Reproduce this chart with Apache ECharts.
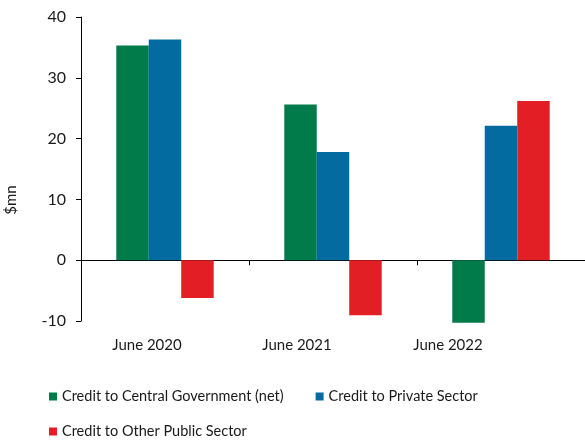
<!DOCTYPE html>
<html><head><meta charset="utf-8">
<script src="https://cdn.jsdelivr.net/npm/echarts@6/dist/echarts.min.js"></script>
<style>html,body{margin:0;padding:0;background:#fff}#c{width:585px;height:441px}</style>
</head><body><div id="c"></div>
<script>
const categories = ['June 2020', 'June 2021', 'June 2022'];
const centralGov = [35.3, 25.6, -10.3];
const privateSector = [36.3, 17.8, 22.1];
const otherPublic = [-6.2, -9.05, 26.2];
const yTicks = [-10, 0, 10, 20, 30, 40];
const seriesNames = ['Credit to Central Government (net)', 'Credit to Private Sector', 'Credit to Other Public Sector'];

const FONT = 'Lato';
const chart = echarts.init(document.getElementById('c'), null, {renderer: 'canvas'});
const labelShift = ['a', 'b', 'c'];
chart.setOption({
  animation: false,
  textStyle: {fontFamily: FONT},
  grid: {left: 81, top: 17, width: 507, bottom: 120, containLabel: false},
  legend: [
    {data: seriesNames.slice(0, 2), left: 44, top: 384, icon: 'rect', itemWidth: 8, itemHeight: 8,
     itemGap: 32, itemTextGap: 4, textStyle: {fontFamily: FONT, fontSize: 14.5, color: '#1a1a1a'}},
    {data: seriesNames.slice(2), left: 44, top: 419, icon: 'rect', itemWidth: 8, itemHeight: 8,
     itemTextGap: 4, textStyle: {fontFamily: FONT, fontSize: 14.5, color: '#1a1a1a'}}
  ],
  xAxis: [
    {type: 'category', data: categories,
     axisLine: {show: true, onZero: true, onZeroAxisIndex: 0, lineStyle: {color: '#000', width: 1}},
     axisTick: {show: true, length: 5, lineStyle: {color: '#000'}},
     axisLabel: {show: false}},
    {type: 'category', data: categories, position: 'bottom',
     axisLine: {show: false, onZero: false}, axisTick: {show: false},
     axisLabel: {margin: 17, fontSize: 15, color: '#1a1a1a',
       formatter: (v, i) => '{' + labelShift[i] + '|' + v + '}',
       rich: {a: {fontSize: 15, padding: [0, 36, 0, 0]}, b: {fontSize: 15, padding: [0, 72, 0, 0]}, c: {fontSize: 15, padding: [0, 106, 0, 0]}}}}
  ],
  yAxis: {type: 'value', min: yTicks[0], max: yTicks[yTicks.length - 1], interval: 10,
    splitLine: {show: false},
    axisLine: {show: true, lineStyle: {color: '#000', width: 1}},
    axisTick: {show: true, length: 5, lineStyle: {color: '#000'}},
    axisLabel: {margin: 15, fontSize: 16, color: '#1a1a1a'}},
  graphic: [{type: 'text', x: 4, y: 200, rotation: Math.PI / 2,
    style: {text: '$mn', fontFamily: FONT, fontSize: 15, fill: '#1a1a1a', textAlign: 'center', textVerticalAlign: 'top'}}],
  series: [
    {name: seriesNames[0], type: 'bar', xAxisIndex: 0, data: centralGov, barGap: '0%', barCategoryGap: '42%', clip: false,
     itemStyle: {color: '#027B4A'}},
    {name: seriesNames[1], type: 'bar', xAxisIndex: 0, data: privateSector, clip: false, itemStyle: {color: '#036BA0'}},
    {name: seriesNames[2], type: 'bar', xAxisIndex: 0, data: otherPublic, clip: false, itemStyle: {color: '#E31F26'}}
  ]
});
</script></body></html>
